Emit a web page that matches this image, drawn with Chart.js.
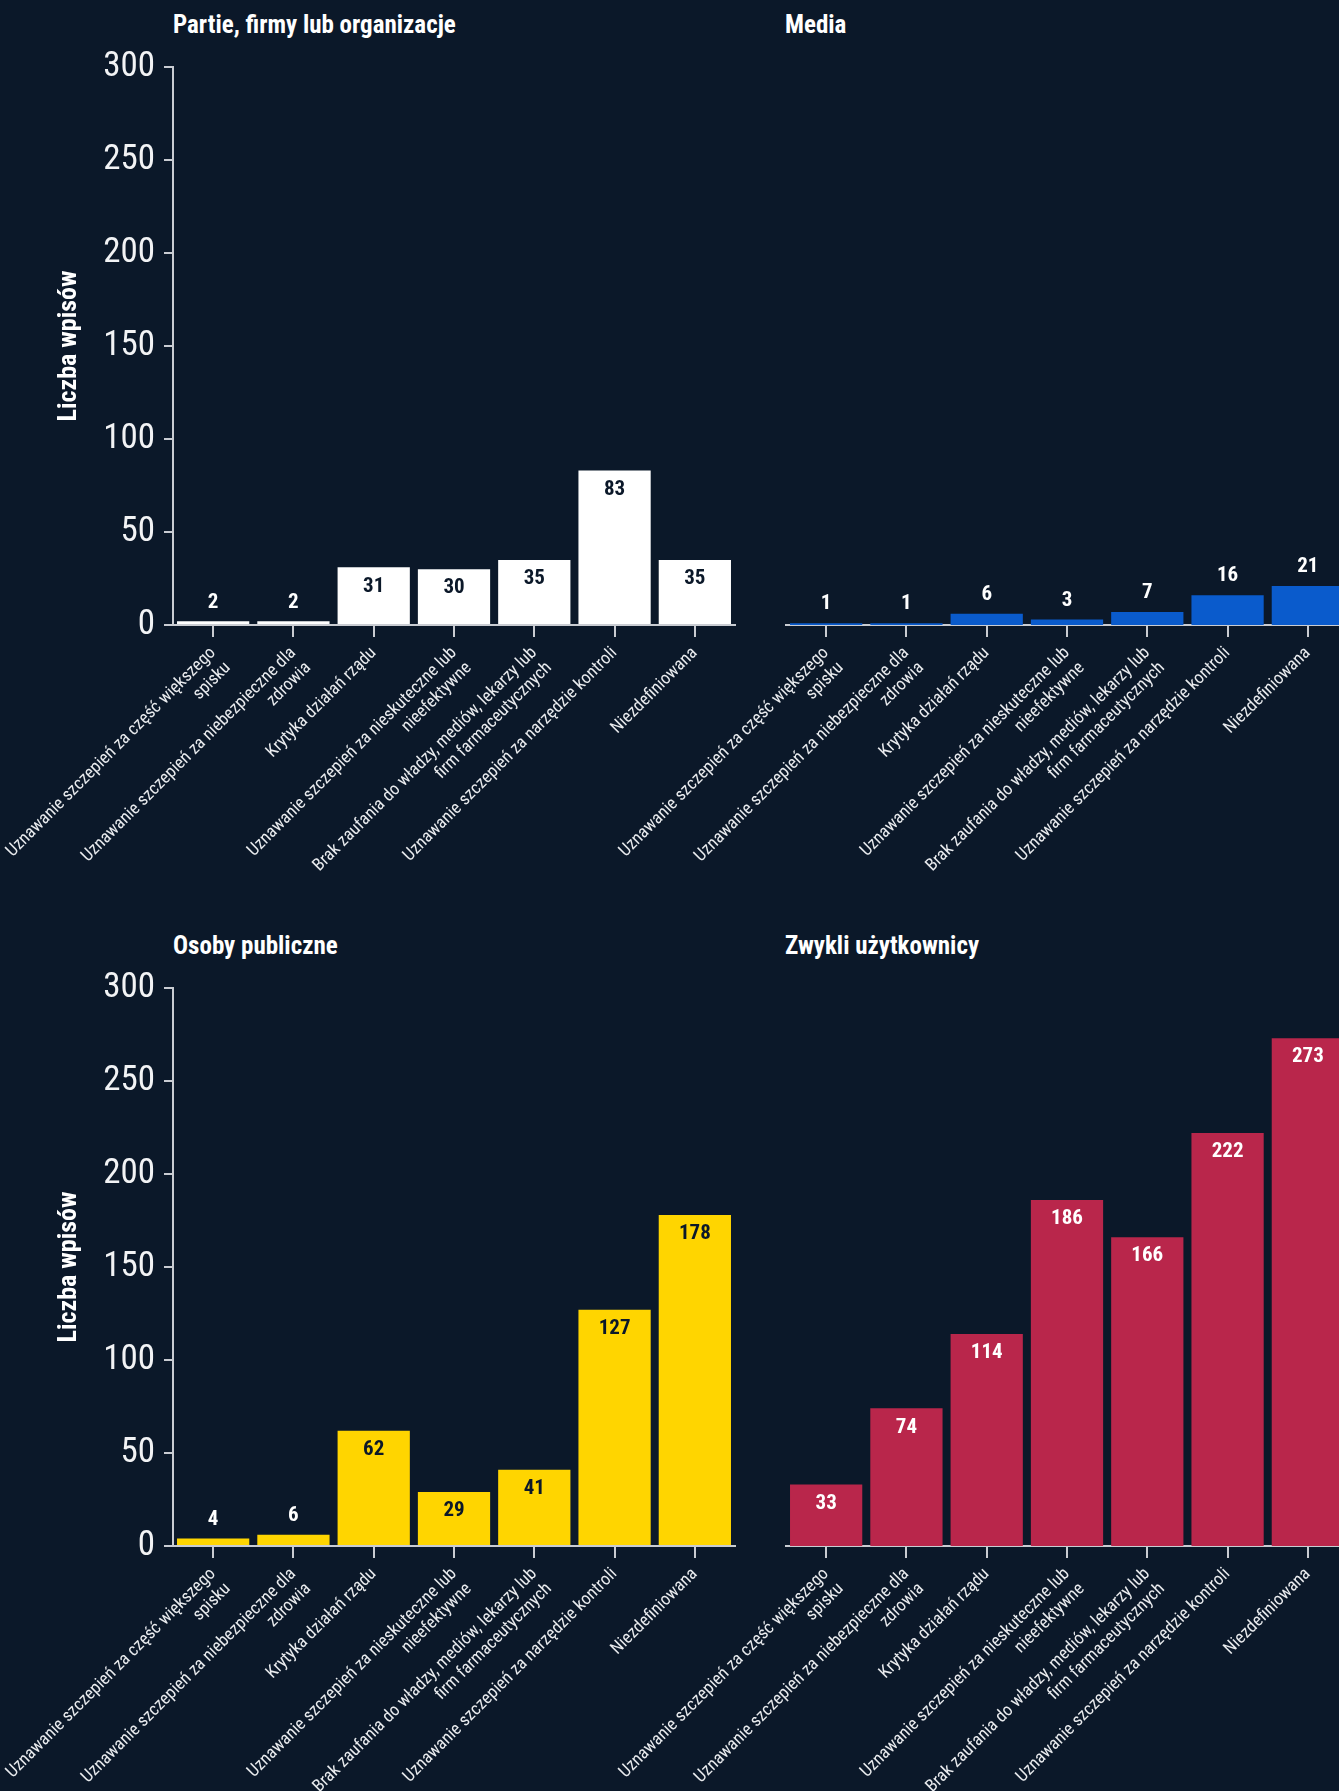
<!DOCTYPE html>
<html>
<head>
<meta charset="utf-8">
<script src="https://cdn.jsdelivr.net/npm/chart.js@4.4.1/dist/chart.umd.min.js"></script>
<style>
  html, body { margin: 0; padding: 0; }
  body { width: 1339px; height: 1791px; overflow: hidden; position: relative; background: #0b1829;
         font-family: 'Roboto Condensed', 'Liberation Sans Narrow', 'DejaVu Sans Condensed', 'DejaVu Sans', sans-serif; }
  canvas { position: absolute; }
  .ptitle { position: absolute; color: #ffffff; font-weight: bold; font-size: 25px; line-height: 30px; white-space: nowrap; }
</style>
</head>
<body>
<div class="ptitle" style="left:173px; top:10px;">Partie, firmy lub organizacje</div>
<div class="ptitle" style="left:785px; top:10px;">Media</div>
<div class="ptitle" style="left:173px; top:931px;">Osoby publiczne</div>
<div class="ptitle" style="left:785px; top:931px;">Zwykli użytkownicy</div>

<canvas id="c1" width="760" height="865" style="left:0px; top:42px;"></canvas>
<canvas id="c2" width="760" height="865" style="left:600px; top:42px;"></canvas>
<canvas id="c3" width="760" height="865" style="left:0px; top:963px;"></canvas>
<canvas id="c4" width="760" height="865" style="left:600px; top:963px;"></canvas>

<script>
// ---- data ----
const categories = [
  ["Uznawanie szczepień za część większego", "spisku"],
  ["Uznawanie szczepień za niebezpieczne dla", "zdrowia"],
  ["Krytyka działań rządu"],
  ["Uznawanie szczepień za nieskuteczne lub", "nieefektywne"],
  ["Brak zaufania do władzy, mediów, lekarzy lub", "firm farmaceutycznych"],
  ["Uznawanie szczepień za narzędzie kontroli"],
  ["Niezdefiniowana"]
];
const partieValues = [2, 2, 31, 30, 35, 83, 35];
const mediaValues = [1, 1, 6, 3, 7, 16, 21];
const osobyValues = [4, 6, 62, 29, 41, 127, 178];
const zwykliValues = [33, 74, 114, 186, 166, 222, 273];
const yTicks = [0, 50, 100, 150, 200, 250, 300];
const yAxisTitle = "Liczba wpisów";

// ---- styling ----
const FONT = "'Roboto Condensed', 'Liberation Sans Narrow', 'DejaVu Sans Condensed', 'DejaVu Sans', sans-serif";
const AXIS = '#c9ccd2';
Chart.defaults.font.family = FONT;
Chart.defaults.color = '#ffffff';

const valueLabels = {
  id: 'valueLabels',
  afterDatasetsDraw(chart, args, opts) {
    const ctx = chart.ctx;
    const meta = chart.getDatasetMeta(0);
    const vals = chart.data.datasets[0].data;
    ctx.save();
    ctx.font = 'bold 21px ' + FONT;
    ctx.textAlign = 'center';
    ctx.textBaseline = 'middle';
    meta.data.forEach((bar, i) => {
      const v = vals[i];
      const inside = v >= 25;
      ctx.fillStyle = inside ? opts.insideColor : '#ffffff';
      const y = inside ? bar.y + 19 : bar.y - 19;
      ctx.fillText(String(v), bar.x, y);
    });
    ctx.restore();
  }
};

function makePanel(id, values, color, insideColor, leftPanel) {
  const el = document.getElementById(id);
  return new Chart(el, {
    type: 'bar',
    data: {
      labels: categories,
      datasets: [{
        data: values,
        backgroundColor: color,
        borderWidth: 0,
        barPercentage: 0.9,
        categoryPercentage: 1.0
      }]
    },
    options: {
      responsive: false,
      animation: false,
      devicePixelRatio: 1,
      layout: { padding: leftPanel ? { top: 25, right: 25, left: 0, bottom: 0 }
                                   : { top: 25, right: 12, left: 186, bottom: 0 } },
      plugins: {
        legend: { display: false },
        tooltip: { enabled: false },
        valueLabels: { insideColor: insideColor }
      },
      scales: {
        x: {
          offset: true,
          grid: { display: true, offset: false, drawOnChartArea: false, drawTicks: true,
                  tickLength: 12, color: AXIS, lineWidth: 2 },
          border: { display: true, color: AXIS, width: 2 },
          ticks: {
            color: '#e9ebee',
            font: { size: 17.5 },
            lineHeight: 1.1,
            minRotation: 45, maxRotation: 45,
            autoSkip: false,
            padding: 6
          },
          afterFit(s) { s.height = 282; s.paddingLeft = 0; s.paddingRight = 0; }
        },
        y: {
          display: leftPanel,
          min: 0, max: 300,
          afterBuildTicks(s) { s.ticks = yTicks.map(v => ({ value: v })); },
          grid: { display: true, drawOnChartArea: false, drawTicks: true,
                  tickLength: 9, color: AXIS, lineWidth: 2 },
          border: { display: true, color: AXIS, width: 2 },
          ticks: { color: '#f2f3f5', font: { size: 35, weight: 400 }, padding: 9 },
          title: {
            display: true,
            text: yAxisTitle,
            color: '#ffffff',
            font: { size: 26, weight: 'bold' },
            padding: { top: 54, bottom: 0 }
          },
          afterFit(s) {
            if (leftPanel) { s.width = 173; }
            s.paddingTop = 0; s.paddingBottom = 0;
          }
        }
      }
    },
    plugins: [valueLabels]
  });
}

makePanel('c1', partieValues, '#ffffff', '#0b1829', true);
makePanel('c2', mediaValues, '#0a5bcc', '#ffffff', false);
makePanel('c3', osobyValues, '#ffd500', '#0b1829', true);
makePanel('c4', zwykliValues, '#b9264b', '#ffffff', false);
</script>
</body>
</html>
